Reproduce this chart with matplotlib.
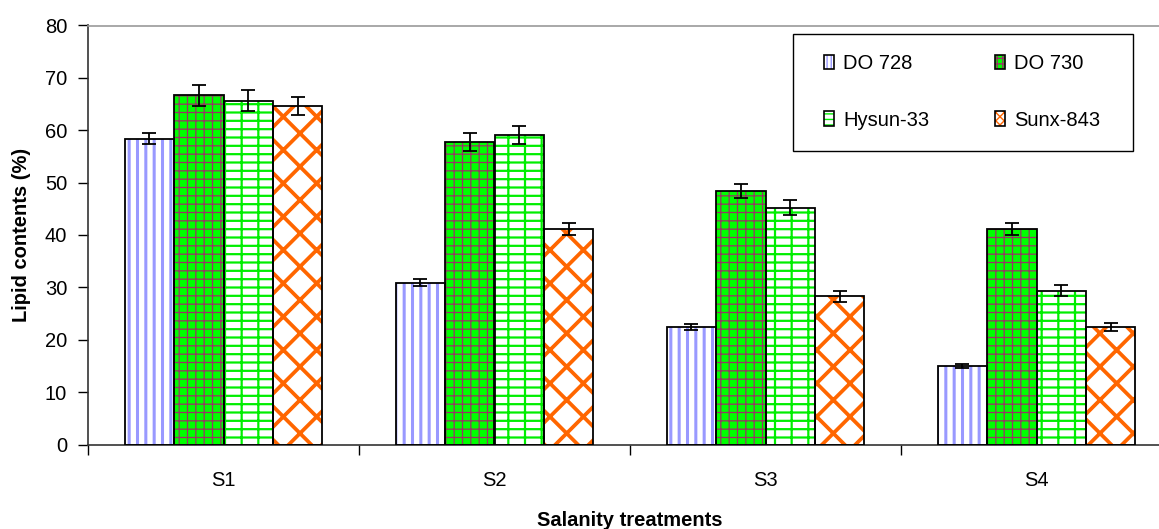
import matplotlib
matplotlib.use("Agg")
import matplotlib.pyplot as plt
import numpy as np
from matplotlib.patches import Patch, Rectangle

plt.rcParams['font.family'] = ['Liberation Sans', 'DejaVu Sans']

categories = ["S1", "S2", "S3", "S4"]
series_names = ["DO 728", "DO 730", "Hysun-33", "Sunx-843"]
do728 = [58.4, 30.9, 22.5, 15.0]
do730 = [66.7, 57.7, 48.4, 41.1]
hysun = [65.6, 59.1, 45.2, 29.4]
sunx = [64.7, 41.1, 28.3, 22.5]
do728_err = [1.1, 0.7, 0.6, 0.3]
do730_err = [2.0, 1.7, 1.4, 1.1]
hysun_err = [2.0, 1.7, 1.4, 1.1]
sunx_err = [1.7, 1.1, 1.1, 0.75]
yticks = [0, 10, 20, 30, 40, 50, 60, 70, 80]

values = [do728, do730, hysun, sunx]
errors = [do728_err, do730_err, hysun_err, sunx_err]
styles = [
    dict(face="white", hatch="||", hcolor="#9999FF", hlw=2.2, lhatch="||||"),
    dict(face="#00FF00", hatch="++", hcolor="#993366", hlw=0.9, lhatch="+++"),
    dict(face="white", hatch="--|", hcolor="#00EE00", hlw=1.6, lhatch="---"),
    dict(face="white", hatch="x", hcolor="#FF6600", hlw=2.7, lhatch="xxxx"),
]
FS = 14.5

fig = plt.figure(figsize=(11.59, 5.29), dpi=100)
ax = fig.add_axes([88/1159, 1-444.5/529, (1172-88)/1159, (444.5-25.5)/529])

x = np.arange(len(categories))
w = 0.1825
for i, (vals, errs, st) in enumerate(zip(values, errors, styles)):
    pos = x + (i - 1.5) * w
    with plt.rc_context({'hatch.linewidth': st["hlw"]}):
        ax.bar(pos, vals, w, color=st["face"], hatch=st["hatch"],
               edgecolor=st["hcolor"], linewidth=0, zorder=2)
    ax.bar(pos, vals, w, facecolor="none", edgecolor="black", linewidth=1.3, zorder=3)
    ax.errorbar(pos, vals, yerr=errs, fmt="none", ecolor="black",
                elinewidth=1.3, capsize=5, capthick=1.3, zorder=4)

ax.set_xlim(-0.5, 3.5)
ax.set_ylim(0, 80)
ax.set_yticks(yticks)
ax.set_yticklabels([str(t) for t in yticks], fontsize=FS)
ax.set_xticks(x)
ax.set_xticklabels(categories, fontsize=FS)
ax.set_xticks(np.arange(-0.5, 4.0, 1.0), minor=True)
ax.tick_params(axis="x", which="major", length=0, pad=19)
ax.tick_params(axis="x", which="minor", length=7, width=1, direction="out")
ax.tick_params(axis="y", length=7, width=1, direction="out", pad=8)

ax.spines["right"].set_visible(False)
ax.spines["top"].set_color("#999999")
ax.spines["top"].set_linewidth(1.2)
ax.spines["left"].set_linewidth(1.2)
ax.spines["bottom"].set_linewidth(1.2)
ax.spines["left"].set_color("#333333")
ax.spines["bottom"].set_color("#333333")

ax.set_ylabel("Lipid contents (%)", fontsize=FS, fontweight="bold", labelpad=10)
fig.text(0.5 * (88 + 1172) / 1159, 1 - 520 / 529, "Salanity treatments",
         fontsize=FS, fontweight="bold", ha="center", va="center")

# legend box
fig.patches.append(Rectangle((793/1159, 1-151/529), (1133-793)/1159, (151-34)/529,
                             transform=fig.transFigure, facecolor="white",
                             edgecolor="black", linewidth=1.0, zorder=5))

handles = []
for st in styles:
    with plt.rc_context({'hatch.linewidth': 1.2}):
        hp = Patch(facecolor=st["face"], hatch=st["lhatch"], edgecolor=st["hcolor"],
                   linewidth=0)
    op = Patch(facecolor="none", edgecolor="black", linewidth=1.2)
    handles.append((hp, op))
order = [0, 2, 1, 3]
leg = fig.legend([handles[k] for k in order], [series_names[k] for k in order],
                 ncol=2, loc="upper left",
                 bbox_to_anchor=(824/1159, 1-54/529), fontsize=FS,
                 frameon=False,
                 handlelength=0.5, handleheight=0.75, handletextpad=0.45,
                 labelspacing=1.87, columnspacing=3.25, borderpad=0,
                 borderaxespad=0)
leg.set_zorder(6)

fig.savefig("out.png", dpi=100)
